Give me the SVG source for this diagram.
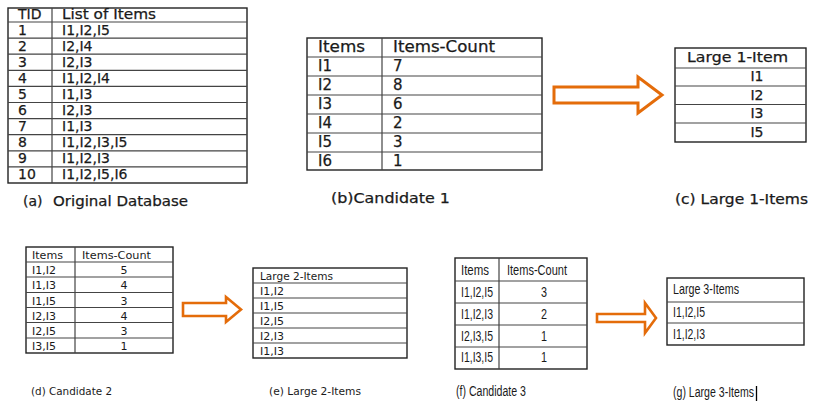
<svg xmlns="http://www.w3.org/2000/svg" width="835" height="403" viewBox="0 0 835 403">
<style>
text{font-family:"DejaVu Sans","Liberation Sans",sans-serif;fill:#1a1a1a}
.f14{font-size:14px}
.f15{font-size:15px}
.f11{font-size:11px}
.sb text,text.sb{stroke:#1a1a1a;stroke-width:0.25}
.cn{font-family:"Liberation Sans",Arial,sans-serif;font-size:15px}
.c{text-anchor:middle}
.box{fill:#fff;stroke:#222;stroke-width:1.4}
.ln{stroke:#444;stroke-width:1.2;fill:none}
.arrow{fill:#fff;stroke:#E46C0A;stroke-width:3;stroke-linejoin:miter}
</style>
<rect width="835" height="403" fill="#fff"/>

<g id="table-a" class="sb">
<rect class="box" x="8" y="8" width="239" height="175"/>
<path class="ln" d="M52 8V183M8 22H247M8 38.1H247M8 54.2H247M8 70.3H247M8 86.4H247M8 102.5H247M8 118.6H247M8 134.7H247M8 150.8H247M8 166.9H247"/>
<text class="f14" x="18" y="19">TID</text>
<text class="f14" x="62" y="19" textLength="94" lengthAdjust="spacingAndGlyphs">List of Items</text>
<g class="f14">
<text x="18" y="34.5">1</text><text x="62" y="34.5">I1,I2,I5</text>
<text x="18" y="50.6">2</text><text x="62" y="50.6">I2,I4</text>
<text x="18" y="66.7">3</text><text x="62" y="66.7">I2,I3</text>
<text x="18" y="82.8">4</text><text x="62" y="82.8">I1,I2,I4</text>
<text x="18" y="98.9">5</text><text x="62" y="98.9">I1,I3</text>
<text x="18" y="115">6</text><text x="62" y="115">I2,I3</text>
<text x="18" y="131.1">7</text><text x="62" y="131.1">I1,I3</text>
<text x="18" y="147.2">8</text><text x="62" y="147.2">I1,I2,I3,I5</text>
<text x="18" y="163.3">9</text><text x="62" y="163.3">I1,I2,I3</text>
<text x="18" y="179.4">10</text><text x="62" y="179.4">I1,I2,I5,I6</text>
</g>
<text class="f14" x="23" y="206">(a)</text>
<text class="f14" x="53" y="206" textLength="135" lengthAdjust="spacingAndGlyphs">Original Database</text>
</g>

<g id="table-b" class="sb">
<rect class="box" x="307" y="38" width="235" height="132"/>
<path class="ln" d="M382 38V170M307 57H542M307 76H542M307 95H542M307 114H542M307 133H542M307 152H542"/>
<text class="f15" x="318" y="52" textLength="47" lengthAdjust="spacingAndGlyphs">Items</text>
<text class="f15" x="393" y="52" textLength="102" lengthAdjust="spacingAndGlyphs">Items-Count</text>
<g class="f15">
<text x="318" y="71">I1</text><text x="393" y="71">7</text>
<text x="318" y="90">I2</text><text x="393" y="90">8</text>
<text x="318" y="109">I3</text><text x="393" y="109">6</text>
<text x="318" y="128">I4</text><text x="393" y="128">2</text>
<text x="318" y="147">I5</text><text x="393" y="147">3</text>
<text x="318" y="166">I6</text><text x="393" y="166">1</text>
</g>
<text class="f14" x="331" y="203" textLength="119" lengthAdjust="spacingAndGlyphs">(b)Candidate 1</text>
</g>

<g id="table-c" class="sb">
<rect class="box" x="675" y="48" width="131" height="94"/>
<path class="ln" d="M675 68H806M675 86H806M675 104.5H806M675 123H806"/>
<text class="f14" x="687" y="62" textLength="101" lengthAdjust="spacingAndGlyphs">Large 1-Item</text>
<g class="f14 c">
<text x="757" y="81">I1</text>
<text x="757" y="99.5">I2</text>
<text x="757" y="118">I3</text>
<text x="757" y="136.5">I5</text>
</g>
<text class="f14" x="675" y="204" textLength="133" lengthAdjust="spacingAndGlyphs">(c) Large 1-Items</text>
</g>

<g id="table-d">
<rect class="box" x="26" y="247" width="147" height="106"/>
<path class="ln" d="M75 247V353M26 262H173M26 277H173M26 292.5H173M26 307.5H173M26 322.5H173M26 338H173"/>
<text class="f11" x="32" y="259" textLength="31" lengthAdjust="spacingAndGlyphs">Items</text>
<text class="f11" x="82" y="259" textLength="69" lengthAdjust="spacingAndGlyphs">Items-Count</text>
<g class="f11">
<text x="32" y="274">I1,I2</text>
<text x="32" y="289">I1,I3</text>
<text x="32" y="304.5">I1,I5</text>
<text x="32" y="319.5">I2,I3</text>
<text x="32" y="334.5">I2,I5</text>
<text x="32" y="350">I3,I5</text>
</g>
<g class="f11 c">
<text x="124" y="274">5</text>
<text x="124" y="289">4</text>
<text x="124" y="304.5">3</text>
<text x="124" y="319.5">4</text>
<text x="124" y="334.5">3</text>
<text x="124" y="350">1</text>
</g>
<text class="f11" x="31" y="395" textLength="81" lengthAdjust="spacingAndGlyphs">(d) Candidate 2</text>
</g>

<g id="table-e">
<rect class="box" x="253" y="268" width="154" height="90"/>
<path class="ln" d="M253 283H407M253 298H407M253 313H407M253 328H407M253 343H407"/>
<text class="f11" x="260" y="280" textLength="73" lengthAdjust="spacingAndGlyphs">Large 2-Items</text>
<g class="f11">
<text x="260" y="295">I1,I2</text>
<text x="260" y="310">I1,I5</text>
<text x="260" y="325">I2,I5</text>
<text x="260" y="340">I2,I3</text>
<text x="260" y="355">I1,I3</text>
</g>
<text class="f11" x="269" y="395" textLength="92" lengthAdjust="spacingAndGlyphs">(e) Large 2-Items</text>
</g>

<g id="table-f">
<rect class="box" x="455" y="258" width="132" height="111"/>
<path class="ln" d="M499 258V369M455 281H587M455 303H587M455 325H587M455 347H587"/>
<text class="cn" x="461" y="275" textLength="28" lengthAdjust="spacingAndGlyphs">Items</text>
<text class="cn" x="507" y="275" textLength="60" lengthAdjust="spacingAndGlyphs">Items-Count</text>
<text class="cn" x="461" y="297" textLength="32" lengthAdjust="spacingAndGlyphs">I1,I2,I5</text>
<text class="cn" x="461" y="319" textLength="32" lengthAdjust="spacingAndGlyphs">I1,I2,I3</text>
<text class="cn" x="461" y="341" textLength="32" lengthAdjust="spacingAndGlyphs">I2,I3,I5</text>
<text class="cn" x="461" y="362" textLength="32" lengthAdjust="spacingAndGlyphs">I1,I3,I5</text>
<text class="cn" x="541" y="297" textLength="6" lengthAdjust="spacingAndGlyphs">3</text>
<text class="cn" x="541" y="319" textLength="6" lengthAdjust="spacingAndGlyphs">2</text>
<text class="cn" x="541" y="341" textLength="6" lengthAdjust="spacingAndGlyphs">1</text>
<text class="cn" x="541" y="362" textLength="6" lengthAdjust="spacingAndGlyphs">1</text>
<text class="cn" x="456" y="396" style="font-size:14px" textLength="70" lengthAdjust="spacingAndGlyphs">(f) Candidate 3</text>
</g>

<g id="table-g">
<rect class="box" x="667" y="278" width="137" height="67"/>
<path class="ln" d="M667 302H804M667 323H804"/>
<text class="cn" x="673" y="294" textLength="66" lengthAdjust="spacingAndGlyphs">Large 3-Items</text>
<text class="cn" x="673" y="317" textLength="32" lengthAdjust="spacingAndGlyphs">I1,I2,I5</text>
<text class="cn" x="673" y="339" textLength="32" lengthAdjust="spacingAndGlyphs">I1,I2,I3</text>
<text class="cn" x="673" y="397" style="font-size:14px" textLength="81" lengthAdjust="spacingAndGlyphs">(g) Large 3-Items</text>
<line x1="756.5" y1="386" x2="756.5" y2="401" stroke="#000" stroke-width="1.3"/>
</g>

<g id="connectors">
<polygon class="arrow" points="554,87 638,87 638,77 662,95 638,113 638,103 554,103"/>
<polygon class="arrow" style="stroke-width:2.6" points="183,303 226,303 226,297 241,309.5 226,322 226,316 183,316"/>
<polygon class="arrow" style="stroke-width:2.6" points="597,314 645,314 645,303 656,318 645,333 645,322 597,322"/>
</g>
</svg>
